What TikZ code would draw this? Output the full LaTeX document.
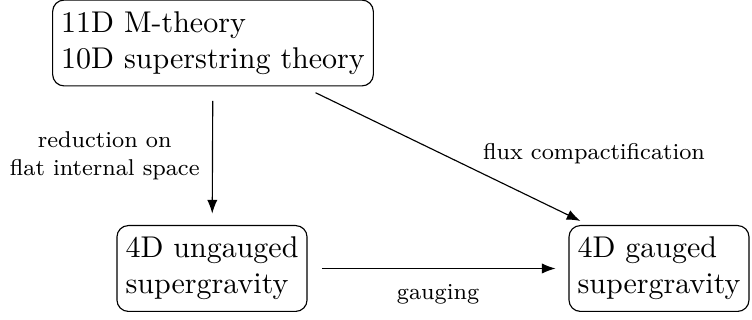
\documentclass[tikz,border=0pt]{standalone}
\usetikzlibrary{calc,arrows.meta,positioning}

\begin{document}
\begin{tikzpicture}[
    x=0.35pt,
    y=-0.35pt,
    >=Latex,
    every node/.style={font=\fontsize{10.5}{12.6}\selectfont},
    theory/.style={draw, rounded corners=4pt, align=left, inner xsep=3pt, inner ysep=4pt},
    link/.style={->, shorten <=5pt},
    tag/.style={font=\footnotesize, align=center}
]

% ---------------------------------------------------------
% Frame
% ---------------------------------------------------------

\useasboundingbox (0,0) rectangle (752,320);

% ---------------------------------------------------------
% Theories
% ---------------------------------------------------------

\node[theory] (higher) at (213,43)
    {11D M-theory\\10D superstring theory};

\node[theory] (ungauged) at (212,268.5)
    {4D ungauged\\supergravity};

\node[theory] (gauged) at (659,268.5)
    {4D gauged\\supergravity};

% ---------------------------------------------------------
% Reductions
% ---------------------------------------------------------

\draw[link, shorten >=4pt]
    (higher) -- (ungauged)
    node[tag, midway, left=1pt] {reduction on\\flat internal space};

\draw[link]
    (higher) -- ($(gauged.north west)+(12,-4)$)
    node[tag, midway, right=11pt] {flux compactification};

\draw[link, shorten >=4.5pt]
    (ungauged) -- (gauged)
    node[tag, midway, below=2pt] {gauging};

\end{tikzpicture}
\end{document}
